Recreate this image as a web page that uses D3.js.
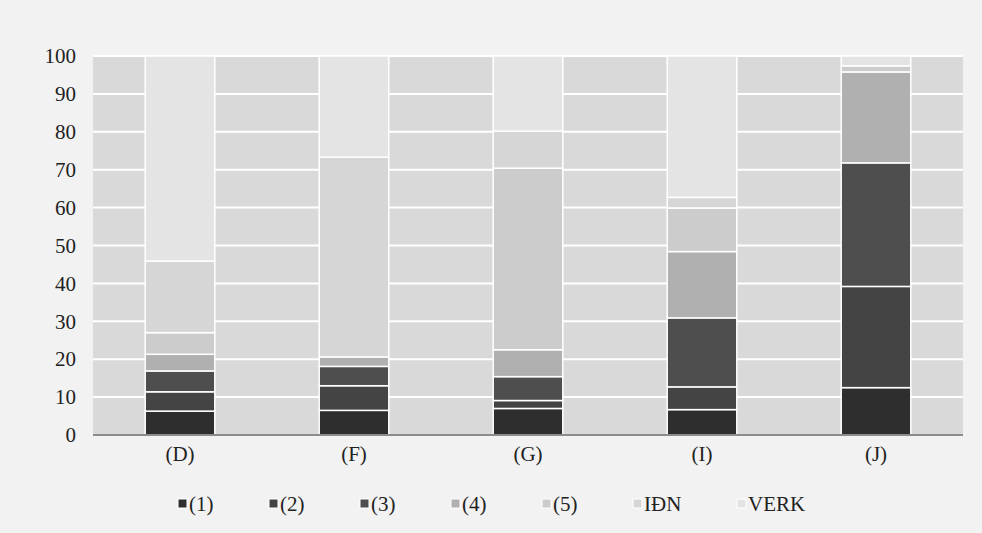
<!DOCTYPE html>
<html>
<head>
<meta charset="utf-8">
<script src="https://cdn.jsdelivr.net/npm/d3@7"></script>
<style>
html,body{margin:0;padding:0;background:#f2f2f2;}
svg{display:block;}
text{font-family:"Liberation Serif","Times New Roman",serif;fill:#222;}
</style>
</head>
<body>
<svg id="chart" width="982" height="533"></svg>
<script>
const categories = ["(D)", "(F)", "(G)", "(I)", "(J)"];
const seriesNames = ["(1)", "(2)", "(3)", "(4)", "(5)", "IÐN", "VERK"];
const s1 = [6.3, 6.5, 7.0, 6.7, 12.5];
const s2 = [5.1, 6.5, 2.1, 6.0, 26.7];
const s3 = [5.5, 5.1, 6.3, 18.2, 32.6];
const s4 = [4.4, 2.5, 7.1, 17.5, 24.0];
const s5 = [5.7, 0.0, 47.9, 11.5, 1.6];
const sIDN = [18.9, 52.7, 9.8, 2.8, 0.0];
const sVERK = [54.1, 26.7, 19.8, 37.3, 2.6];
const yTicks = [0, 10, 20, 30, 40, 50, 60, 70, 80, 90, 100];
const colors = ["#2e2e2e", "#444444", "#4e4e4e", "#b0b0b0", "#cccccc", "#d6d6d6", "#e4e4e4"];

const seriesValues = [s1, s2, s3, s4, s5, sIDN, sVERK];
const rows = categories.map((c, i) => {
  const r = {cat: c};
  seriesNames.forEach((n, k) => r[n] = seriesValues[k][i]);
  return r;
});

const svg = d3.select("#chart");
const m = {left: 93, right: 963, top: 56, bottom: 435};
const FS = "21px";

const x = d3.scaleBand().domain(categories).range([m.left, m.right]).paddingInner(0.6).paddingOuter(0.3);
const y = d3.scaleLinear().domain([0, 100]).range([m.bottom, m.top]);

svg.append("rect").attr("x", m.left).attr("y", m.top)
  .attr("width", m.right - m.left).attr("height", m.bottom - m.top).attr("fill", "#d9d9d9");

svg.append("g").selectAll("line").data(yTicks.filter(d => d > 0)).join("line")
  .attr("x1", m.left).attr("x2", m.right)
  .attr("y1", d => y(d)).attr("y2", d => y(d))
  .attr("stroke", "#ffffff").attr("stroke-width", 2);

const stack = d3.stack().keys(seriesNames)(rows);
svg.append("g").selectAll("g").data(stack).join("g")
  .attr("fill", (d, i) => colors[i])
  .selectAll("rect").data(d => d.filter(p => p[1] - p[0] > 0)).join("rect")
  .attr("x", d => x(d.data.cat))
  .attr("width", x.bandwidth())
  .attr("y", d => y(d[1]))
  .attr("height", d => y(d[0]) - y(d[1]))
  .attr("stroke", "#ffffff").attr("stroke-width", 1.5);

const yAxis = d3.axisLeft(y).tickValues(yTicks).tickSize(0).tickPadding(17);
const gy = svg.append("g").attr("transform", `translate(${m.left},0)`).call(yAxis);
gy.select(".domain").remove();
gy.selectAll("text").style("font-family", '"Liberation Serif", serif').style("font-size", FS).attr("fill", "#222");

const xAxis = d3.axisBottom(x).tickSize(0).tickPadding(11);
const gx = svg.append("g").attr("transform", `translate(0,${m.bottom})`).call(xAxis);
gx.select(".domain").attr("stroke", "#8c8c8c").attr("stroke-width", 2)
  .attr("d", `M${m.left},0H${m.right}`);
gx.selectAll("text").style("font-family", '"Liberation Serif", serif').style("font-size", FS).attr("fill", "#222");

const legendX = [178, 269, 360, 451, 542, 633, 737];
const lg = svg.append("g");
seriesNames.forEach((n, i) => {
  const g = lg.append("g").attr("transform", `translate(${legendX[i]},504)`);
  g.append("rect").attr("x", 0).attr("y", -5).attr("width", 9).attr("height", 9)
    .attr("fill", colors[i]).attr("stroke", "#ffffff").attr("stroke-width", 1);
  g.append("text").attr("x", 11).attr("y", 0).attr("dy", "0.35em")
    .style("font-size", FS).text(n);
});
</script>
</body>
</html>
